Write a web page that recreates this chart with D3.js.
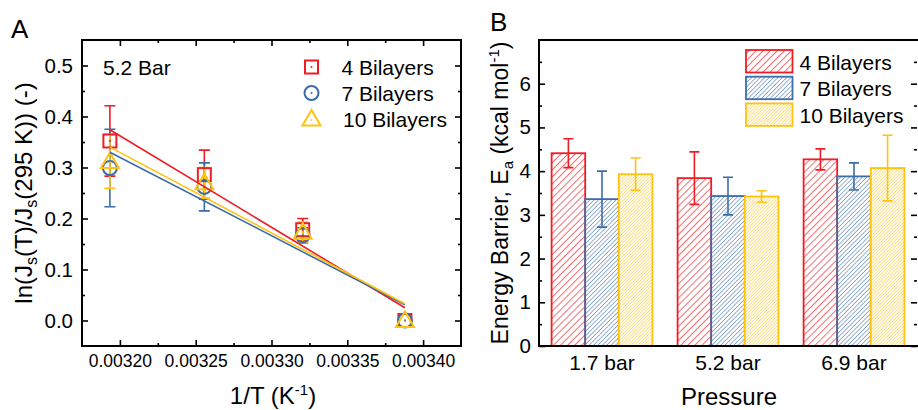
<!DOCTYPE html>
<html>
<head>
<meta charset="utf-8">
<script src="https://cdn.jsdelivr.net/npm/d3@7"></script>
<style>
  body { margin: 0; background: #fff; }
  svg { font-family: "Liberation Sans", Arial, sans-serif; }
</style>
</head>
<body>
<div id="chart"></div>
<script>
// ---- data ----
var seriesNames = ["4 Bilayers", "7 Bilayers", "10 Bilayers"];
var colors = ["#f01c24", "#3c6dab", "#ffc20e"];

// panel A: ln(Js(T)/Js(295K)) vs 1/T at 5.2 bar
var invT = [0.0031934, 0.0032557, 0.0033206, 0.003388];
var lnRatio4 = [0.352, 0.286, 0.178, 0];
var lnErr4 = [0.069, 0.048, 0.022, 0];
var lnRatio7 = [0.299, 0.262, 0.167, 0];
var lnErr7 = [0.076, 0.047, 0.015, 0];
var lnRatio10 = [0.312, 0.27, 0.173, 0];
var lnErr10 = [0.053, 0.03, 0.02, 0];
// linear fit values at the first and last 1/T
var fit4 = [0.374, 0.025];
var fit7 = [0.330, 0.031];
var fit10 = [0.340, 0.033];
var xTicksA = [0.0032, 0.00325, 0.0033, 0.00335, 0.0034];
var yTicksA = [0, 0.1, 0.2, 0.3, 0.4, 0.5];

// panel B: energy barrier by pressure
var pressures = ["1.7 bar", "5.2 bar", "6.9 bar"];
var ea4 = [4.41, 3.84, 4.27];
var ea4Err = [0.33, 0.60, 0.24];
var ea7 = [3.36, 3.43, 3.88];
var ea7Err = [0.64, 0.43, 0.31];
var ea10 = [3.93, 3.42, 4.07];
var ea10Err = [0.37, 0.13, 0.75];
var yTicksB = [0, 1, 2, 3, 4, 5, 6];

var W = 918, H = 410;
var svg = d3.select("#chart").append("svg")
    .attr("width", W).attr("height", H);

var defs = svg.append("defs");
var hatch = [{s: 5, w: 1.3}, {s: 3.1, w: 1.05}, {s: 2.3, w: 1}];
hatch.forEach(function(h, i) {
    var p = defs.append("pattern")
        .attr("id", "hatch" + i)
        .attr("patternUnits", "userSpaceOnUse")
        .attr("width", h.s).attr("height", h.s)
        .attr("patternTransform", "rotate(45)");
    p.append("rect").attr("width", h.s).attr("height", h.s).attr("fill", "#fff");
    p.append("line")
        .attr("x1", 0).attr("y1", 0).attr("x2", 0).attr("y2", h.s)
        .attr("stroke", colors[i]).attr("stroke-width", h.w);
});

function styleAxis(g, size) {
    g.select(".domain").remove();
    g.selectAll(".tick line").attr("stroke", "#000").attr("stroke-width", 1.6);
    g.selectAll(".tick text").attr("fill", "#000").style("font-size", size + "px");
}

function minorsOf(lo, hi, step) {
    var out = [];
    for (var v = lo; v < hi - 1e-12; v += step) out.push(v);
    return out;
}

// ================= panel A =================
var A = {left: 82, right: 461, top: 40, bottom: 346};
var xA = d3.scaleLinear().domain([0.003175, 0.003425]).range([A.left, A.right]);
var yA = d3.scaleLinear().domain([-0.05, 0.55]).range([A.bottom, A.top]);
var xMinorA = [0.003225, 0.003275, 0.003325, 0.003375];
var yMinorA = [0.05, 0.15, 0.25, 0.35, 0.45];

var gA = svg.append("g");

gA.append("g").attr("transform", "translate(0," + A.bottom + ")")
    .call(d3.axisBottom(xA).tickValues(xTicksA).tickSize(-6).tickPadding(9)
        .tickFormat(d3.format(".5f")))
    .call(styleAxis, 17.5);
gA.append("g").attr("transform", "translate(0," + A.bottom + ")")
    .call(d3.axisBottom(xA).tickValues(xMinorA).tickSize(-3).tickFormat(""))
    .call(styleAxis, 10);
gA.append("g").attr("transform", "translate(0," + A.top + ")")
    .call(d3.axisTop(xA).tickValues(xTicksA).tickSize(-6).tickFormat(""))
    .call(styleAxis, 10);
gA.append("g").attr("transform", "translate(0," + A.top + ")")
    .call(d3.axisTop(xA).tickValues(xMinorA).tickSize(-3).tickFormat(""))
    .call(styleAxis, 10);
gA.append("g").attr("transform", "translate(" + A.left + ",0)")
    .call(d3.axisLeft(yA).tickValues(yTicksA).tickSize(-6).tickPadding(9)
        .tickFormat(d3.format(".1f")))
    .call(styleAxis, 20.5);
gA.append("g").attr("transform", "translate(" + A.left + ",0)")
    .call(d3.axisLeft(yA).tickValues(yMinorA).tickSize(-3).tickFormat(""))
    .call(styleAxis, 10);
gA.append("g").attr("transform", "translate(" + A.right + ",0)")
    .call(d3.axisRight(yA).tickValues(yTicksA).tickSize(-6).tickFormat(""))
    .call(styleAxis, 10);
gA.append("g").attr("transform", "translate(" + A.right + ",0)")
    .call(d3.axisRight(yA).tickValues(yMinorA).tickSize(-3).tickFormat(""))
    .call(styleAxis, 10);

gA.append("rect")
    .attr("x", A.left).attr("y", A.top)
    .attr("width", A.right - A.left).attr("height", A.bottom - A.top)
    .attr("fill", "none").attr("stroke", "#000").attr("stroke-width", 2);

var seriesA = [
    {vals: lnRatio4, err: lnErr4, fit: fit4, shape: "square"},
    {vals: lnRatio7, err: lnErr7, fit: fit7, shape: "circle"},
    {vals: lnRatio10, err: lnErr10, fit: fit10, shape: "triangle"}
];

function drawMarker(g, shape, cx, cy, color) {
    if (shape === "square") {
        g.append("rect").attr("x", cx - 6.5).attr("y", cy - 6.5)
            .attr("width", 13).attr("height", 13);
    } else if (shape === "circle") {
        g.append("circle").attr("cx", cx).attr("cy", cy).attr("r", 7);
    } else {
        g.append("path").attr("d", "M" + cx + "," + (cy - 9) + "L" + (cx + 9) + "," + (cy + 6.5)
            + "L" + (cx - 9) + "," + (cy + 6.5) + "Z");
    }
    g.selectAll("rect,circle,path").attr("fill", "none")
        .attr("stroke", color).attr("stroke-width", 2);
    g.append("circle").attr("cx", cx).attr("cy", shape === "triangle" ? cy + 1 : cy)
        .attr("r", 1).attr("fill", color);
}

seriesA.forEach(function(s, i) {
    var g = gA.append("g");
    s.vals.forEach(function(v, j) {
        var x = xA(invT[j]);
        if (s.err[j] > 0) {
            var y1 = yA(v + s.err[j]), y0 = yA(v - s.err[j]);
            g.append("path")
                .attr("d", "M" + x + "," + y0 + "V" + y1 + "M" + (x - 5.5) + "," + y1 + "H" + (x + 5.5)
                    + "M" + (x - 5.5) + "," + y0 + "H" + (x + 5.5))
                .attr("stroke", colors[i]).attr("stroke-width", 1.6).attr("fill", "none");
        }
    });
});
seriesA.forEach(function(s, i) {
    s.vals.forEach(function(v, j) {
        drawMarker(gA.append("g"), s.shape, xA(invT[j]), yA(v), colors[i]);
    });
});
seriesA.forEach(function(s, i) {
    gA.append("line")
        .attr("x1", xA(invT[0])).attr("y1", yA(s.fit[0]))
        .attr("x2", xA(invT[invT.length - 1])).attr("y2", yA(s.fit[1]))
        .attr("stroke", colors[i]).attr("stroke-width", 1.6);
});

// legend A
gA.append("text").attr("x", 103).attr("y", 75).style("font-size", "21px").text("5.2 Bar");
seriesA.forEach(function(s, i) {
    var cy = 67 + i * 26;
    drawMarker(gA.append("g"), s.shape, 311.5, cy, colors[i]);
    gA.append("text").attr("x", i === 2 ? 343 : 341.5).attr("y", cy + 8)
        .style("font-size", "21px").text(seriesNames[i]);
});

// axis titles A
var tA = gA.append("text").attr("x", 273).attr("y", 404)
    .attr("text-anchor", "middle").style("font-size", "24px");
tA.append("tspan").text("1/T (K");
tA.append("tspan").attr("dy", -9).style("font-size", "15px").text("-1");
tA.append("tspan").attr("dy", 9).text(")");

var yTitleA = gA.append("text")
    .attr("transform", "translate(32,193) rotate(-90)")
    .attr("text-anchor", "middle").style("font-size", "24px");
yTitleA.append("tspan").text("ln(J");
yTitleA.append("tspan").attr("dy", 5).style("font-size", "16px").text("s");
yTitleA.append("tspan").attr("dy", -5).text("(T)/J");
yTitleA.append("tspan").attr("dy", 5).style("font-size", "16px").text("s");
yTitleA.append("tspan").attr("dy", -5).text("(295 K)) (-)");

svg.append("text").attr("x", 11).attr("y", 38).style("font-size", "26px").text("A");

// ================= panel B =================
var B = {left: 539, right: 917, top: 40, bottom: 346};
var xB = d3.scaleBand().domain(pressures).range([B.left, B.right])
    .paddingInner(0.2).paddingOuter(0.1);
var xSub = d3.scaleBand().domain(seriesNames).range([0, xB.bandwidth()]);
var yB = d3.scaleLinear().domain([0, 7]).range([B.bottom, B.top]);
var yMinorB = minorsOf(0.5, 7, 1);

var gB = svg.append("g");

gB.append("g").attr("transform", "translate(" + B.left + ",0)")
    .call(d3.axisLeft(yB).tickValues(yTicksB).tickSize(-6).tickPadding(8)
        .tickFormat(d3.format("d")))
    .call(styleAxis, 20.5);
gB.append("g").attr("transform", "translate(" + B.left + ",0)")
    .call(d3.axisLeft(yB).tickValues(yMinorB).tickSize(-3).tickFormat(""))
    .call(styleAxis, 10);
gB.append("g").attr("transform", "translate(" + B.right + ",0)")
    .call(d3.axisRight(yB).tickValues(yTicksB).tickSize(-6).tickFormat(""))
    .call(styleAxis, 10);
gB.append("g").attr("transform", "translate(" + B.right + ",0)")
    .call(d3.axisRight(yB).tickValues(yMinorB).tickSize(-3).tickFormat(""))
    .call(styleAxis, 10);

var seriesB = [
    {vals: ea4, err: ea4Err},
    {vals: ea7, err: ea7Err},
    {vals: ea10, err: ea10Err}
];

seriesB.forEach(function(s, i) {
    var g = gB.append("g");
    pressures.forEach(function(p, j) {
        var x = xB(p) + xSub(seriesNames[i]);
        g.append("rect")
            .attr("x", x).attr("y", yB(s.vals[j]))
            .attr("width", xSub.bandwidth()).attr("height", yB(0) - yB(s.vals[j]))
            .attr("fill", "url(#hatch" + i + ")")
            .attr("stroke", colors[i]).attr("stroke-width", 1.8);
    });
});
seriesB.forEach(function(s, i) {
    pressures.forEach(function(p, j) {
        var cx = xB(p) + xSub(seriesNames[i]) + xSub.bandwidth() / 2;
        var y1 = yB(s.vals[j] + s.err[j]), y0 = yB(s.vals[j] - s.err[j]);
        gB.append("path")
            .attr("d", "M" + cx + "," + y0 + "V" + y1 + "M" + (cx - 5) + "," + y1 + "H" + (cx + 5)
                + "M" + (cx - 5) + "," + y0 + "H" + (cx + 5))
            .attr("stroke", colors[i]).attr("stroke-width", 1.6).attr("fill", "none");
    });
});

gB.append("rect")
    .attr("x", B.left).attr("y", B.top)
    .attr("width", B.right - B.left + 4).attr("height", B.bottom - B.top)
    .attr("fill", "none").attr("stroke", "#000").attr("stroke-width", 2);

// category labels
gB.selectAll(".cat").data(pressures).enter().append("text")
    .attr("x", function(d) { return xB(d) + xB.bandwidth() / 2; })
    .attr("y", 370).attr("text-anchor", "middle")
    .style("font-size", "21px").text(function(d) { return d; });

// legend B
seriesNames.forEach(function(n, i) {
    var y = 50 + i * 26.7;
    gB.append("rect").attr("x", 746).attr("y", y).attr("width", 46.5).attr("height", 22.5)
        .attr("fill", "url(#hatch" + i + ")").attr("stroke", colors[i]).attr("stroke-width", 1.8);
    gB.append("text").attr("x", 799.5).attr("y", y + 19.5)
        .style("font-size", "21px").text(n);
});

gB.append("text").attr("x", 729).attr("y", 405).attr("text-anchor", "middle")
    .style("font-size", "24px").text("Pressure");

var yTitleB = gB.append("text")
    .attr("transform", "translate(508,193) rotate(-90)")
    .attr("text-anchor", "middle").style("font-size", "23px");
yTitleB.append("tspan").text("Energy Barrier, E");
yTitleB.append("tspan").attr("dy", 5).style("font-size", "15px").text("a");
yTitleB.append("tspan").attr("dy", -5).text(" (kcal mol");
yTitleB.append("tspan").attr("dy", -9).style("font-size", "15px").text("-1");
yTitleB.append("tspan").attr("dy", 9).text(")");

svg.append("text").attr("x", 490).attr("y", 31).style("font-size", "26px").text("B");
</script>
</body>
</html>
